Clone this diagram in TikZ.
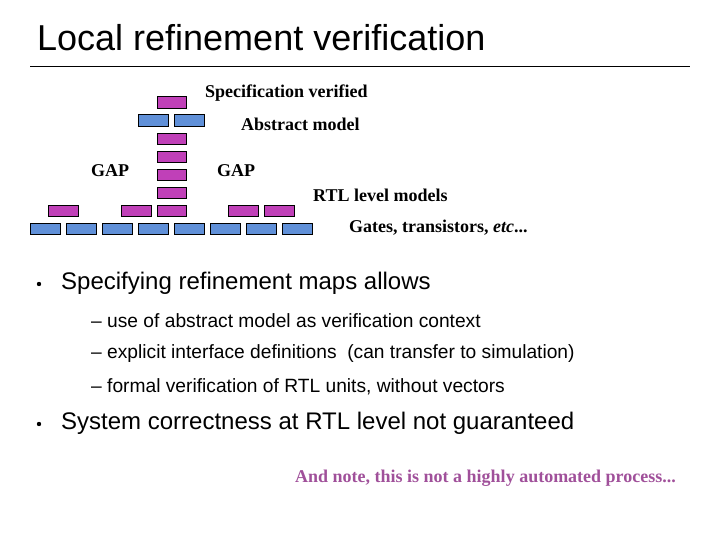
\documentclass[tikz,border=0pt]{standalone}
\usepackage{fontspec}
\setmainfont{Liberation Sans}
\newfontfamily\tms{Liberation Serif}
\begin{document}
\begin{tikzpicture}[x=1pt,y=-1pt,
 pu/.style={draw=black,fill=pur,line width=0.6pt},
 bl/.style={draw=black,fill=blu,line width=0.6pt},
 lab/.style={anchor=west,inner sep=0,font=\tms\bfseries\fontsize{18}{20}\selectfont},
 big/.style={anchor=west,inner sep=0,font=\fontsize{24}{27}\selectfont},
 sub/.style={anchor=west,inner sep=0,font=\fontsize{19.2}{22}\selectfont}]
\definecolor{pur}{HTML}{C040B8}
\definecolor{blu}{HTML}{6090D8}
\definecolor{note}{HTML}{A0509A}
\useasboundingbox (0,0) rectangle (720,540);
\node[anchor=west,inner sep=0,font=\fontsize{36}{40}\selectfont] (title) at (37,38) {Local refinement verification};
\draw[line width=0.6pt] (30,66) -- (690,66);
% blocks
\draw[pu] (157,96) rectangle (186,108);
\draw[bl] (138,114) rectangle (168,126);
\draw[bl] (174,114) rectangle (204,126);
\foreach \y in {133,151,169,187,205} \draw[pu] (157,\y) rectangle (186,\y+11);
\foreach \x in {48,121,228,264} \draw[pu] (\x,205) rectangle (\x+30,216);
\foreach \i in {0,...,7} \draw[bl] (30+\i*36,223) rectangle (60+\i*36,234);
\node[lab] (spec) at (205,93) {Specification verified};
\node[lab] (abs) at (241,124) {Abstract model};
\node[lab] (gap1) at (91,171) {GAP};
\node[lab] (gap2) at (217,171) {GAP};
\node[lab] (rtl) at (313,195) {RTL level models};
\node[lab] (gates) at (349,228) {Gates, transistors, \textit{etc}...};
% bullets
\fill (39,284) circle (2.2);
\node[big] (b1) at (61,283) {Specifying refinement maps allows};
\node[sub] (s1) at (91,321) {– use of abstract model as verification context};
\node[sub] (s2) at (91,354) {– explicit interface definitions\ \ (can transfer to simulation)};
\node[sub] (s3) at (91,387) {– formal verification of RTL units, without vectors};
\fill (39,424) circle (2.2);
\node[big] (b2) at (61,423) {System correctness at RTL level not guaranteed};
\node[lab,text=note] (n) at (295,478) {And note, this is not a highly automated process...};
\end{tikzpicture}
\end{document}
